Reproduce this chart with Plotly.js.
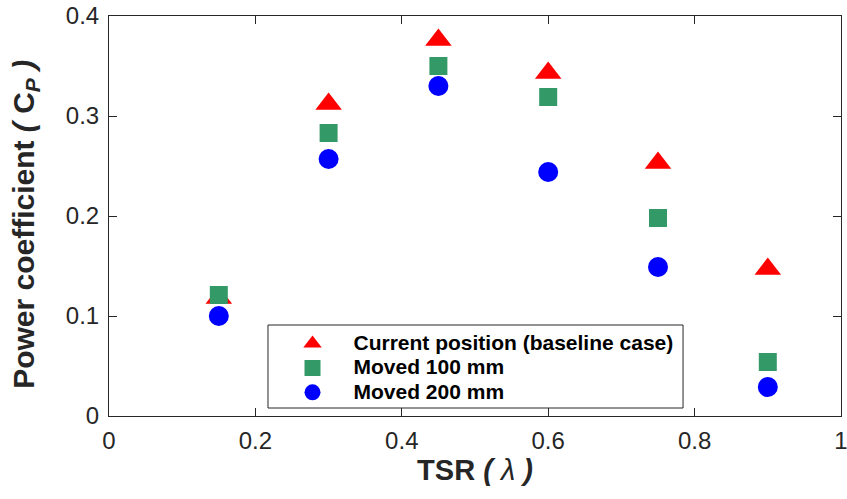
<!DOCTYPE html>
<html>
<head>
<meta charset="utf-8">
<script src="https://cdn.plot.ly/plotly-3.0.1.min.js"></script>
<style>html,body{margin:0;padding:0;background:#fff;}#chart{width:847px;height:499px;}</style>
</head>
<body>
<div id="chart"></div>
<script>
var tsr = [0.15, 0.30, 0.45, 0.60, 0.75, 0.90];
var cpBaseline = [0.118, 0.312, 0.376, 0.343, 0.253, 0.147];
var cpMoved100 = [0.121, 0.283, 0.350, 0.319, 0.198, 0.054];
var cpMoved200 = [0.100, 0.257, 0.330, 0.244, 0.149, 0.029];
var seriesNames = ['Current position (baseline case)', 'Moved 100 mm', 'Moved 200 mm'];
var xTicks = [0, 0.2, 0.4, 0.6, 0.8, 1];
var xTickText = ['0', '0.2', '0.4', '0.6', '0.8', '1'];
var yTicks = [0, 0.1, 0.2, 0.3, 0.4];
var yTickText = ['0', '0.1', '0.2', '0.3', '0.4'];

var FONT = 'Liberation Sans, Arial, Helvetica, sans-serif';
var AX = '#262626';

function legendLabel(s) {
  return '<span style="font-size:21px">' + s + '</span>';
}

var traces = [
  {x: tsr, y: cpBaseline, name: legendLabel(seriesNames[0]), type: 'scatter', mode: 'markers',
   marker: {symbol: 'triangle-up', size: 23, color: '#ff0000', line: {width: 0}}},
  {x: tsr, y: cpMoved100, name: legendLabel(seriesNames[1]), type: 'scatter', mode: 'markers',
   marker: {symbol: 'square', size: 18, color: '#339966', line: {width: 0}}},
  {x: tsr, y: cpMoved200, name: legendLabel(seriesNames[2]), type: 'scatter', mode: 'markers',
   marker: {symbol: 'circle', size: 20, color: '#0000ff', line: {width: 0}}}
];

var axisCommon = {
  showline: true, linecolor: AX, linewidth: 1, mirror: 'ticks',
  ticks: 'inside', ticklen: 8, tickwidth: 1, tickcolor: AX,
  showgrid: false, zeroline: false, automargin: false,
  ticklabeloverflow: 'allow',
  tickfont: {family: FONT, size: 24, color: AX}
};

var layout = {
  width: 847, height: 499, autosize: false,
  margin: {l: 109, r: 6, t: 16, b: 83, pad: 0},
  paper_bgcolor: '#ffffff', plot_bgcolor: '#ffffff',
  font: {family: FONT, color: AX},
  showlegend: true,
  xaxis: Object.assign({}, axisCommon, {
    range: [0, 1], tickmode: 'array', tickvals: xTicks, ticktext: xTickText,
    ticklabelstandoff: 3,
    title: {text: '<b>TSR </b><b><i>( </i></b><span style="font-style:italic">λ</span><b><i> )</i></b>',
            font: {family: FONT, size: 29, color: AX}, standoff: 4}
  }),
  yaxis: Object.assign({}, axisCommon, {
    range: [0, 0.4], tickmode: 'array', tickvals: yTicks, ticktext: yTickText,
    ticklabelstandoff: 4,
    title: {text: '<b>Power coefficient <i>( </i>C<sub><i>P</i></sub><i> )</i>&nbsp;&nbsp;</b>',
            font: {family: FONT, size: 30, color: AX}, standoff: 22}
  }),
  legend: {
    x: 0.222, y: 0.2245, xanchor: 'left', yanchor: 'top',
    bgcolor: 'rgba(0,0,0,0)', borderwidth: 0,
    itemwidth: 72,
    font: {family: FONT, size: 16.5, color: '#000000', weight: 'bold'}
  },
  shapes: [
    {type: 'rect', xref: 'paper', yref: 'paper', x0: 0.2172, x1: 0.7842, y0: 0.02, y1: 0.2275,
     line: {color: AX, width: 1}, fillcolor: '#ffffff', layer: 'below'}
  ]
};

Plotly.newPlot('chart', traces, layout, {displayModeBar: false, staticPlot: true});
</script>
</body>
</html>
